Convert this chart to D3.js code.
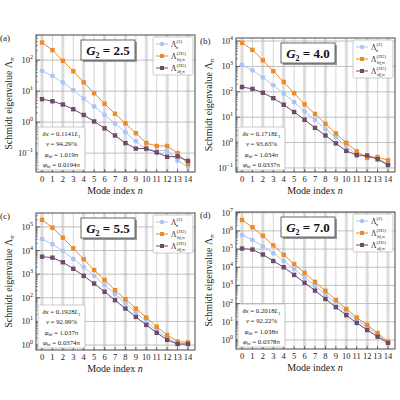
<!DOCTYPE html>
<html><head><meta charset="utf-8">
<script src="https://d3js.org/d3.v7.min.js"></script>
<style>body{margin:0;background:#fff}svg{font-family:"Liberation Serif","DejaVu Serif",serif}</style>
</head><body><svg id="c" width="400" height="400"></svg>
<script>
const modes = d3.range(15);
const panelLabels = ["(a)","(b)","(c)","(d)"];
const gValues = ["2.5","4.0","5.5","7.0"];
const dx = ["0.1141","0.1718","0.1928","0.2018"];
const nu = ["94.29%","93.63%","92.99%","92.22%"];
const phiDf = ["1.019π","1.034π","1.037π","1.038π"];
const phiBf = ["0.0194π","0.0337π","0.0374π","0.0378π"];
const yDomains = [[-1.61,2.81],[-1.16,4.12],[-0.21,5.59],[-0.5,7.04]];
const yTickExps = [[-1,0,1,2],[-1,0,1,2,3,4],[0,1,2,3,4,5],[0,1,2,3,4,5,6,7]];
const lam2 = [
 [45,31,19,10.7,5.7,3.2,1.7,0.9,0.47,0.24,0.13,0.12,0.12,0.057,0.036],
 [1150,700,370,180,85,39,17,7.8,3.4,1.6,0.73,0.31,0.29,0.24,0.14],
 [31000,18500,9600,4400,2000,850,350,142,59,24.5,10,4.2,2.0,1.1,1.1],
 [5.8e5,3.2e5,1.4e5,5.9e4,2.2e4,8e3,2.8e3,940,325,105,36,12.6,4.8,1.9,0.7]];
const lamBf = [
 [370,210,95,44,19,8.5,3.9,1.85,0.91,0.44,0.21,0.17,0.17,0.1,0.044],
 [8500,4500,1750,650,245,88,32,13.4,5.5,2.3,0.98,0.45,0.25,0.27,0.2],
 [2e5,93000,35000,12500,4300,1500,570,210,87,35,14.5,6,2.65,1.4,1.3],
 [4e6,1.6e6,5.3e5,1.6e5,4.8e4,1.5e4,4.9e3,1.55e3,500,160,51,17,6.7,2.4,0.8]];
const lamDf = [
 [5.5,4.7,3.7,2.6,1.7,1.05,0.63,0.37,0.21,0.14,0.14,0.105,0.076,0.078,0.056],
 [155,130,92,56,31,16,7.9,3.8,1.9,0.93,0.47,0.32,0.31,0.22,0.13],
 [5500,5000,3200,1700,850,400,180,79,35,15.5,7.1,3.3,1.65,1.1,1.1],
 [1.07e5,9.4e4,5e4,2.2e4,1e4,3.8e3,1.4e3,520,180,63,23,8.6,3.5,1.5,0.68]];
const colors = ["#a9c4f5","#ee8a23","#6e4a6a"];
const legendSub = ["n","bf,n","df,n"];
const legendSup = ["(2)","(2U)","(2U)"];

const svg = d3.select("#c");
const sup = ["⁰","¹","²","³","⁴","⁵","⁶","⁷"];
const pos = [[36,35],[236,38],[36,213],[236,212]];
const W=159, H=[137,134,137,137];

for(let p=0;p<4;p++){
  const [x0,y0]=pos[p], h=H[p];
  const g=svg.append("g").attr("transform",`translate(${x0},${y0})`);
  const x=d3.scalePoint().domain(modes).range([6,W-7]);
  const y=d3.scaleLog().domain(yDomains[p].map(e=>Math.pow(10,e))).range([h,0]);
  // vertical grid
  modes.forEach(m=>{
    g.append("line").attr("x1",x(m)).attr("x2",x(m)).attr("y1",0).attr("y2",h)
     .attr("stroke", m%2===0?"#dcdcdc":"#b8b8b8").attr("stroke-width", m%2===0?3:0.6);
  });
  yTickExps[p].forEach(e=>{
    g.append("line").attr("x1",0).attr("x2",W).attr("y1",y(Math.pow(10,e))).attr("y2",y(Math.pow(10,e)))
     .attr("stroke","#b0b0b0").attr("stroke-width",0.8);
    for(let k=2;k<10;k++){const v=k*Math.pow(10,e); if(v<=y.domain()[1]&&v>=y.domain()[0]){
      g.append("line").attr("x1",0).attr("x2",2).attr("y1",y(v)).attr("y2",y(v)).attr("stroke","#333").attr("stroke-width",0.5);}}
    for(let k=2;k<10;k++){const v=k*Math.pow(10,e-1); if(e===yTickExps[p][0]&&v>=y.domain()[0]){
      g.append("line").attr("x1",0).attr("x2",2).attr("y1",y(v)).attr("y2",y(v)).attr("stroke","#333").attr("stroke-width",0.5);}}
    g.append("line").attr("x1",0).attr("x2",4).attr("y1",y(Math.pow(10,e))).attr("y2",y(Math.pow(10,e))).attr("stroke","#333").attr("stroke-width",0.7);
    const t=g.append("text").attr("x",-3).attr("y",y(Math.pow(10,e))+3).attr("text-anchor","end").attr("font-size",8.5).attr("fill","#222");
    t.append("tspan").text("10");
    t.append("tspan").attr("dy",-4).attr("font-size",6).text(e<0?"−"+(-e):String(e));
  });
  // x ticks
  modes.forEach(m=>{
    g.append("line").attr("x1",x(m)).attr("x2",x(m)).attr("y1",h).attr("y2",h-3).attr("stroke","#333").attr("stroke-width",0.7);
    g.append("text").attr("x",x(m)).attr("y",h+10).attr("text-anchor","middle").attr("font-size",8.5).attr("fill","#222").text(m);
  });
  g.append("rect").attr("width",W).attr("height",h).attr("fill","none").attr("stroke","#333").attr("stroke-width",0.9);
  // series
  const series=[lam2[p],lamBf[p],lamDf[p]];
  series.forEach((s,i)=>{
    g.append("path").datum(s).attr("fill","none").attr("stroke",colors[i]).attr("stroke-width",1)
     .attr("d",d3.line().x((d,j)=>x(modes[j])).y(d=>y(d)));
    g.selectAll(null).data(s).enter().append(i===0?"circle":"rect")
     .each(function(d,j){const el=d3.select(this);
       if(i===0) el.attr("cx",x(modes[j])).attr("cy",y(d)).attr("r",2.4);
       else el.attr("x",x(modes[j])-2.2).attr("y",y(d)-2.2).attr("width",4.4).attr("height",4.4);})
     .attr("fill",colors[i]);
  });
  // labels
  g.append("text").attr("x",x(7)).attr("y",h+22).attr("text-anchor","middle").attr("font-size",10).attr("fill","#222")
   .html('Mode index <tspan font-style="italic">n</tspan>');
  g.append("text").attr("transform",`translate(-24,${h/2}) rotate(-90)`).attr("text-anchor","middle").attr("font-size",10).attr("fill","#222")
   .html('Schmidt eigenvalue Λ<tspan font-size="7" dy="2" font-style="italic">n</tspan>');
  g.append("text").attr("x",-36).attr("y",6).attr("font-size",9).attr("fill","#222").text(panelLabels[p]);
  // G2 box
  g.append("rect").attr("x",47).attr("y",7).attr("width",54).attr("height",20).attr("fill","#999");
  g.append("rect").attr("x",45).attr("y",5).attr("width",54).attr("height",20).attr("fill","#fff").attr("stroke","#444").attr("stroke-width",0.8);
  g.append("text").attr("x",72).attr("y",20).attr("text-anchor","middle").attr("font-size",13).attr("font-weight","bold").attr("fill","#111")
   .html(`<tspan font-style="italic">G</tspan><tspan font-size="8" dy="3">2</tspan><tspan dy="-3"> = ${gValues[p]}</tspan>`);
  // legend
  const lg=g.append("g").attr("transform",`translate(${W-42},2)`);
  lg.append("rect").attr("width",40).attr("height",38).attr("fill","#fff").attr("fill-opacity",0.9).attr("stroke","#aaa").attr("stroke-width",0.6).attr("rx",1.5);
  for(let i=0;i<3;i++){
    const yy=7+i*12;
    lg.append("line").attr("x1",3).attr("x2",15).attr("y1",yy).attr("y2",yy).attr("stroke",colors[i]).attr("stroke-width",1);
    if(i===0) lg.append("circle").attr("cx",9).attr("cy",yy).attr("r",2.2).attr("fill",colors[i]);
    else lg.append("rect").attr("x",7).attr("y",yy-2).attr("width",4).attr("height",4).attr("fill",colors[i]);
    lg.append("text").attr("x",18).attr("y",yy+3).attr("font-size",7.5).attr("fill","#222")
      .html(`Λ<tspan font-size="5" dy="-4">${legendSup[i]}</tspan><tspan font-size="5" dx="-${legendSup[i].length*2.2}" dy="6" font-style="italic">${legendSub[i]}</tspan>`);
  }
  // info box
  const ib=g.append("g").attr("transform",`translate(2,${h-45})`);
  ib.append("rect").attr("width",47).attr("height",43).attr("fill","#fff").attr("stroke","#aaa").attr("stroke-width",0.6).attr("rx",1.5);
  const lines=[`<tspan font-style="italic">δx</tspan> = ${dx[p]}<tspan font-style="italic">L</tspan><tspan font-size="4.5" dy="1.5">1</tspan>`,
    `<tspan font-style="italic">ν</tspan> = ${nu[p]}`,
    `<tspan font-style="italic">φ</tspan><tspan font-size="4.5" dy="1.5">df</tspan><tspan dy="-1.5"> = ${phiDf[p]}</tspan>`,
    `<tspan font-style="italic">φ</tspan><tspan font-size="4.5" dy="1.5">bf</tspan><tspan dy="-1.5"> = ${phiBf[p]}</tspan>`];
  lines.forEach((l,i)=>ib.append("text").attr("x",23.5).attr("y",9+i*10.3).attr("text-anchor","middle").attr("font-size",6.8).attr("fill","#222").html(l));
}
</script></body></html>
